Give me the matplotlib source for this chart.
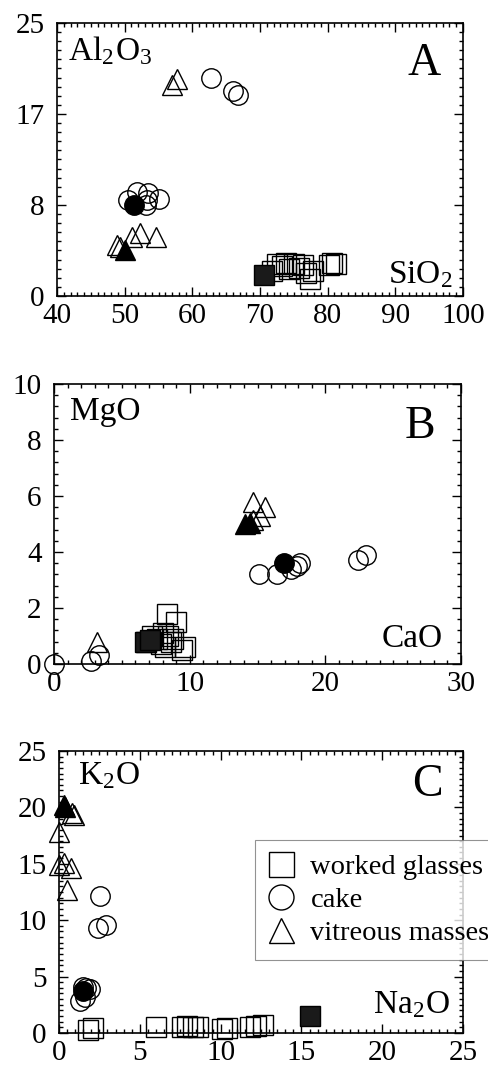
import matplotlib
matplotlib.use('Agg')
import matplotlib.pyplot as plt
from matplotlib.lines import Line2D
from matplotlib.ticker import MultipleLocator, FixedLocator

plt.rcParams['font.family'] = ['Liberation Serif', 'DejaVu Serif']
plt.rcParams['mathtext.fontset'] = 'stix'

# --- A : Al2O3 vs SiO2 ---
a_glass_x = [71.8, 72.5, 73.2, 73.9, 74.3, 75.0, 75.8, 76.4, 76.8, 77.4, 77.8, 80.2, 80.7, 81.3]
a_glass_y = [2.3, 2.9, 2.7, 3.0, 2.5, 2.9, 2.6, 2.8, 2.1, 1.6, 2.3, 2.8, 3.0, 2.9]
a_glass_fill_x = [70.6]
a_glass_fill_y = [1.9]
a_cake_x = [50.5, 51.8, 53.3, 53.5, 55.1, 53.1, 62.7, 66.0, 66.7]
a_cake_y = [8.8, 9.5, 8.8, 9.4, 8.9, 8.3, 20.0, 18.8, 18.4]
a_cake_fill_x = [51.4]
a_cake_fill_y = [8.3]
a_vit_x = [57.0, 57.7, 48.8, 49.3, 51.1, 52.3, 54.6]
a_vit_y = [19.3, 19.9, 4.7, 4.5, 5.4, 5.8, 5.4]
a_vit_fill_x = [50.0]
a_vit_fill_y = [4.2]

# --- B : MgO vs CaO ---
b_glass_x = [8.35, 9.0, 6.8, 7.2, 7.6, 8.0, 8.4, 8.8, 7.9, 8.2, 9.4, 9.65, 8.6]
b_glass_y = [1.8, 1.5, 0.8, 1.0, 0.9, 1.1, 1.0, 0.9, 0.7, 0.6, 0.5, 0.6, 0.8]
b_glass_fill_x = [6.7, 7.1]
b_glass_fill_y = [0.8, 0.85]
b_cake_x = [0.0, 2.7, 3.3, 15.1, 16.4, 17.5, 17.9, 18.1, 22.4, 23.0]
b_cake_y = [0.0, 0.1, 0.33, 3.2, 3.2, 3.4, 3.5, 3.6, 3.7, 3.9]
b_cake_fill_x = [16.95]
b_cake_fill_y = [3.6]
b_vit_x = [3.15, 14.7, 15.55, 15.2, 14.7]
b_vit_y = [0.8, 5.8, 5.6, 5.3, 5.15]
b_vit_fill_x = [14.1, 14.45]
b_vit_fill_y = [5.0, 5.05]

# --- C : K2O vs Na2O ---
c_glass_x = [1.8, 2.1, 6.0, 7.6, 7.9, 8.3, 8.6, 10.1, 10.4, 11.8, 12.2, 12.6]
c_glass_y = [0.3, 0.45, 0.5, 0.5, 0.6, 0.55, 0.5, 0.35, 0.4, 0.5, 0.6, 0.7]
c_glass_fill_x = [15.5]
c_glass_fill_y = [1.5]
c_cake_x = [2.53, 2.43, 2.9, 1.3, 1.6, 1.7, 1.5, 1.9]
c_cake_y = [12.1, 9.3, 9.6, 2.8, 3.2, 4.0, 4.1, 3.9]
c_cake_fill_x = [1.5]
c_cake_fill_y = [3.7]
c_vit_x = [0.9, 0.8, 0.0, 0.0, 0.33, 0.74, 0.47]
c_vit_y = [19.3, 19.5, 17.8, 14.9, 15.1, 14.6, 12.7]
c_vit_fill_x = [0.3, 0.4]
c_vit_fill_y = [20.2, 20.0]

legend_labels = ['worked glasses', 'cake', 'vitreous masses']

MS = 14
MEW = 1.0

fig = plt.figure(figsize=(4.88, 10.67), dpi=100)
axA = fig.add_axes([0.1168, 0.7226, 0.832, 0.2559])
axB = fig.add_axes([0.1107, 0.3777, 0.834, 0.2624])
axC = fig.add_axes([0.1209, 0.0319, 0.828, 0.2643])


def draw_panel(ax, gx, gy, gfx, gfy, cx, cy, cfx, cfy, vx, vy, vfx, vfy):
    kw = dict(linestyle='none', markersize=MS, markeredgewidth=MEW, clip_on=False)
    ax.plot(gx, gy, marker='s', mfc='none', mec='black', **kw)
    ax.plot(cx, cy, marker='o', mfc='none', mec='black', **kw)
    ax.plot(vx, vy, marker='^', mfc='none', mec='black', **kw)
    ax.plot(gfx, gfy, marker='s', mfc='#1a1a1a', mec='black', **kw)
    ax.plot(cfx, cfy, marker='o', mfc='black', mec='black', **kw)
    ax.plot(vfx, vfy, marker='^', mfc='black', mec='black', **kw)


def style_axes(ax):
    for s in ax.spines.values():
        s.set_linewidth(1.2)
    ax.tick_params(which='both', direction='in', top=True, right=True,
                   labelsize=21, width=1.0)
    ax.tick_params(which='major', length=6.5)
    ax.tick_params(which='minor', length=3.2)
    ax.tick_params(axis='y', pad=9)
    ax.tick_params(axis='x', pad=5)


draw_panel(axA, a_glass_x, a_glass_y, a_glass_fill_x, a_glass_fill_y,
           a_cake_x, a_cake_y, a_cake_fill_x, a_cake_fill_y,
           a_vit_x, a_vit_y, a_vit_fill_x, a_vit_fill_y)
draw_panel(axB, b_glass_x, b_glass_y, b_glass_fill_x, b_glass_fill_y,
           b_cake_x, b_cake_y, b_cake_fill_x, b_cake_fill_y,
           b_vit_x, b_vit_y, b_vit_fill_x, b_vit_fill_y)
draw_panel(axC, c_glass_x, c_glass_y, c_glass_fill_x, c_glass_fill_y,
           c_cake_x, c_cake_y, c_cake_fill_x, c_cake_fill_y,
           c_vit_x, c_vit_y, c_vit_fill_x, c_vit_fill_y)

# axis ranges and ticks
axA.set_xlim(40, 100)
axA.set_ylim(0, 25)
axA.xaxis.set_major_locator(MultipleLocator(10))
axA.xaxis.set_minor_locator(MultipleLocator(1))
axA.yaxis.set_major_locator(FixedLocator([0, 25 / 3, 50 / 3, 25]))
axA.set_yticklabels(['0', '8', '17', '25'])
axA.yaxis.set_minor_locator(MultipleLocator(25 / 30))

axB.set_xlim(0, 30)
axB.set_ylim(0, 10)
axB.xaxis.set_major_locator(MultipleLocator(10))
axB.xaxis.set_minor_locator(MultipleLocator(1))
axB.yaxis.set_major_locator(MultipleLocator(2))
axB.yaxis.set_minor_locator(MultipleLocator(0.4))

axC.set_xlim(0, 25)
axC.set_ylim(0, 25)
axC.xaxis.set_major_locator(MultipleLocator(5))
axC.xaxis.set_minor_locator(MultipleLocator(0.5))
axC.yaxis.set_major_locator(MultipleLocator(5))
axC.yaxis.set_minor_locator(MultipleLocator(0.5))

for ax in (axA, axB, axC):
    style_axes(ax)

# in-panel labels
axA.text(0.027, 0.955, 'Al$_\\mathregular{2}$O$_\\mathregular{3}$', transform=axA.transAxes,
         fontsize=24, ha='left', va='top')
axA.text(0.945, 0.93, 'A', transform=axA.transAxes, fontsize=33, ha='right', va='top')
axA.text(0.975, 0.02, 'SiO$_\\mathregular{2}$', transform=axA.transAxes,
         fontsize=24, ha='right', va='bottom')

axB.text(0.039, 0.955, 'MgO', transform=axB.transAxes, fontsize=24, ha='left', va='top')
axB.text(0.936, 0.925, 'B', transform=axB.transAxes, fontsize=33, ha='right', va='top')
axB.text(0.956, 0.035, 'CaO', transform=axB.transAxes, fontsize=24, ha='right', va='bottom')

axC.text(0.047, 0.965, 'K$_\\mathregular{2}$O', transform=axC.transAxes,
         fontsize=24, ha='left', va='top')
axC.text(0.95, 0.955, 'C', transform=axC.transAxes, fontsize=33, ha='right', va='top')
axC.text(0.968, 0.045, 'Na$_\\mathregular{2}$O', transform=axC.transAxes,
         fontsize=24, ha='right', va='bottom')

# legend in panel C, runs off the right edge
handles = [Line2D([], [], linestyle='none', marker=m, markersize=18, mfc='none',
                  mec='black', markeredgewidth=1.0) for m in ('s', 'o', '^')]
leg = axC.legend(handles, legend_labels, loc='upper left', bbox_to_anchor=(0.485, 0.684),
                 fontsize=20.5, frameon=True, fancybox=False, handlelength=0.85,
                 handletextpad=0.6, borderpad=0.5, labelspacing=0.24, borderaxespad=0)
leg.get_frame().set_edgecolor('#777777')
leg.get_frame().set_linewidth(0.8)

fig.savefig('out.png', dpi=100)
